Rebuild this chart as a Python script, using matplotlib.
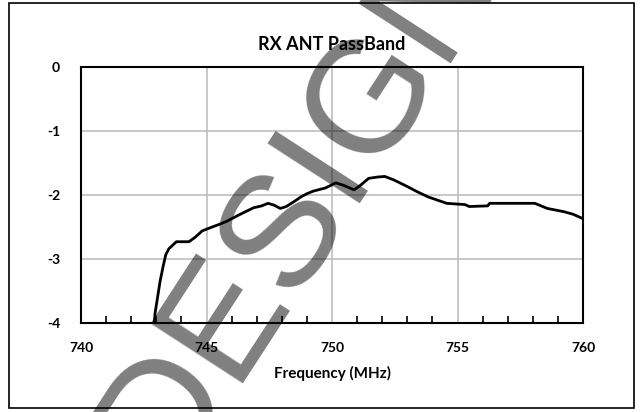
import matplotlib
matplotlib.use("Agg")
import matplotlib.pyplot as plt
from matplotlib.patches import Rectangle
from matplotlib.ticker import MultipleLocator

freq = [742.92, 742.95, 743.05, 743.15, 743.28, 743.38, 743.5, 743.8, 744.3,
        744.55, 744.83, 745.16, 745.5, 745.81, 746.3, 746.87, 747.2, 747.45,
        747.7, 747.94, 748.18, 748.5, 748.76, 749.0, 749.25, 749.74, 750.15,
        750.47, 750.88, 751.13, 751.46, 751.8, 752.1, 752.44, 753.01, 753.4,
        753.83, 754.2, 754.57, 755.3, 755.47, 756.2, 756.28, 757.0, 757.5,
        758.08, 758.58, 759.23, 759.6, 760.0]
loss = [-4.0, -3.85, -3.6, -3.35, -3.1, -2.93, -2.84, -2.73, -2.73,
        -2.66, -2.56, -2.51, -2.46, -2.41, -2.31, -2.2, -2.17, -2.13,
        -2.16, -2.21, -2.18, -2.1, -2.03, -1.98, -1.94, -1.89, -1.81,
        -1.85, -1.92, -1.85, -1.74, -1.72, -1.71, -1.76, -1.87, -1.95,
        -2.03, -2.08, -2.13, -2.15, -2.18, -2.17, -2.13, -2.13, -2.13,
        -2.13, -2.21, -2.26, -2.3, -2.37]

title = "RX ANT PassBand"
xlabel = "Frequency (MHz)"
xticks = [740, 745, 750, 755, 760]
yticks = [0, -1, -2, -3, -4]
watermark = "DESIGN"

plt.rcParams['font.family'] = ['Lato', 'DejaVu Sans']

fig = plt.figure(figsize=(6.41, 4.12), dpi=100)
ax = fig.add_axes([81/641, 1-323/412, (583-81)/641, (323-67)/412])

ax.plot(freq, loss, color='black', lw=2.0, zorder=3)

ax.set_xlim(740, 760)
ax.set_ylim(-4, 0)
ax.set_xticks(xticks)
ax.set_yticks(yticks)
ax.set_xticklabels([str(v) for v in xticks], fontweight='bold', fontsize=10)
ax.set_yticklabels([str(v) for v in yticks], fontweight='bold', fontsize=10)
ax.xaxis.set_minor_locator(MultipleLocator(1))
ax.tick_params(axis='x', which='major', length=0, pad=14)
ax.tick_params(axis='x', which='minor', direction='in', length=5, width=1.2, color='black')
ax.tick_params(axis='y', which='major', length=0, pad=15)
ax.grid(True, which='major', color='#bfbfbf', lw=1.2)
ax.set_axisbelow(True)
for s in ax.spines.values():
    s.set_linewidth(1.5)
    s.set_color('black')

ax.set_title(title, fontweight='bold', fontsize=13, pad=12)
ax.set_xlabel(xlabel, fontweight='bold', fontsize=11, labelpad=8)

fig.patches.append(Rectangle((9/641, 1-408/412), (634-9)/641, (408-3)/412,
                             transform=fig.transFigure, fill=False,
                             edgecolor='black', lw=1.2))

fig.text(167.7/641, 1-479.2/412, watermark, rotation=57, fontsize=115,
         family='Liberation Sans', color='black', alpha=0.5,
         ha='left', va='baseline', rotation_mode='anchor', zorder=10)

fig.savefig("out.png", dpi=100)
